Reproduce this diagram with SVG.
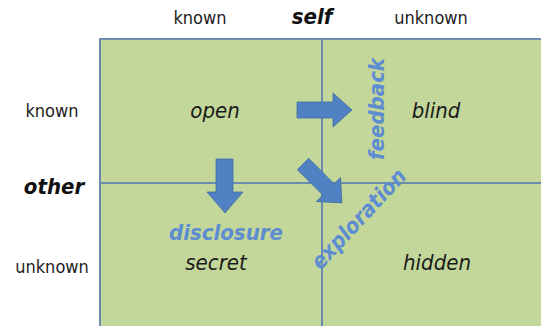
<svg xmlns="http://www.w3.org/2000/svg" width="541" height="326" viewBox="0 0 541 326">
  <style>
    .lbl { font-family: "DejaVu Sans Condensed", "DejaVu Sans", sans-serif; font-stretch: condensed; fill: #222; text-anchor: middle; }
    .small { font-size: 18px; }
    .axis { font-size: 22px; font-weight: bold; font-style: italic; fill: #111; }
    .quad { font-size: 22px; font-style: italic; fill: #1a1a1a; }
    .act { font-size: 22px; font-weight: bold; font-style: italic; fill: #5d8dd0; }
    .line { fill: none; stroke: #6b8cae; stroke-width: 2; }
    .arrow { fill: #4f81c3; stroke: #41709f; stroke-width: 0.8; }
  </style>
  <rect width="541" height="326" fill="#ffffff"/>
  <g id="grid">
    <rect x="100" y="39" width="450" height="300" fill="#c4d79b" stroke="#6b8cae" stroke-width="2"/>
    <line x1="322" y1="39" x2="322" y2="330" class="line"/>
    <line x1="100" y1="183" x2="545" y2="183" class="line"/>
  </g>
  <g id="connectors">
    <polygon class="arrow" points="297,102 333,102 333,93 352,110 333,127 333,118 297,118"/>
    <polygon class="arrow" points="216,159 233,159 233,192 243,192 225,213 207,192 216,192"/>
    <polygon class="arrow" transform="translate(303,164) rotate(45)" points="0,-8 36,-8 36,-17 55,0 36,17 36,8 0,8"/>
  </g>
  <g id="header">
    <text class="lbl small" x="200" y="24">known</text>
    <text class="lbl axis" x="312" y="24">self</text>
    <text class="lbl small" x="431" y="24">unknown</text>
    <text class="lbl small" x="52" y="117">known</text>
    <text class="lbl axis" x="54" y="194">other</text>
    <text class="lbl small" x="52" y="273">unknown</text>
  </g>
  <g id="open"><text class="lbl quad" x="215" y="118">open</text></g>
  <g id="blind"><text class="lbl quad" x="436" y="118">blind</text></g>
  <g id="secret"><text class="lbl quad" x="216" y="270">secret</text></g>
  <g id="hidden"><text class="lbl quad" x="437" y="270">hidden</text></g>
  <g id="feedback"><text class="lbl act" transform="translate(384,109) rotate(-90)">feedback</text></g>
  <g id="disclosure"><text class="lbl act" x="226" y="240">disclosure</text></g>
  <g id="exploration"><text class="lbl act" transform="translate(364,224) rotate(-47)">exploration</text></g>
</svg>
